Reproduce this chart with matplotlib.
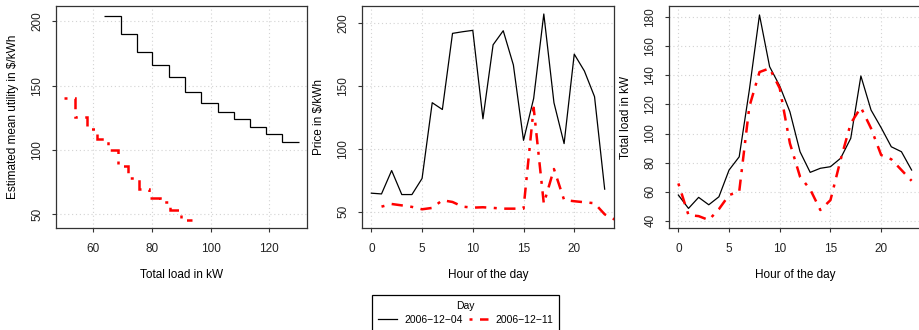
import numpy as np
import matplotlib
matplotlib.use('Agg')
import matplotlib.pyplot as plt
from matplotlib.lines import Line2D

plt.rcParams['font.family'] = ['Liberation Sans', 'DejaVu Sans']
plt.rcParams['font.size'] = 8.5

# panel 1: estimated mean utility (step functions)
util_edges_04 = [63.8, 69.4, 74.8, 80.1, 85.8, 91.4, 96.9, 102.6, 108.0, 113.5, 118.9, 124.5, 130.2]
util_vals_04 = [204.3, 190.3, 176.4, 166.3, 156.5, 145.2, 136.9, 129.7, 123.8, 118.1, 112.2, 106.5]
util_edges_11 = [50.1, 53.9, 57.9, 61.4, 65.0, 68.4, 72.0, 75.5, 79.1, 82.7, 86.1, 89.9, 93.6]
util_vals_11 = [140.3, 125.6, 116.6, 108.5, 100.0, 87.6, 78.3, 70.1, 62.6, 59.5, 53.3, 45.5]

# panel 2: price
hours_04 = list(range(0, 24))
price_04 = [64.7, 64.1, 82.7, 63.6, 63.6, 76.4, 136.6, 131.2, 191.7, 193.0, 194.1, 123.8,
            182.6, 193.8, 166.6, 106.7, 140.0, 207.1, 136.6, 104.1, 175.2, 161.8, 141.4, 67.9]
hours_11 = list(range(1, 25))
price_11 = [54.0, 56.1, 55.0, 53.8, 51.9, 53.0, 59.1, 57.7, 54.0, 53.2, 53.5, 53.0,
            52.4, 52.4, 52.4, 132.6, 56.4, 83.9, 59.3, 58.3, 57.5, 56.7, 47.9, 43.7]

# panel 3: total load
hours = list(range(0, 24))
load_04 = [57.7, 48.5, 56.1, 51.0, 56.5, 74.9, 84.0, 130.0, 181.6, 146.0, 132.7, 115.0,
           87.5, 73.3, 76.1, 77.2, 83.0, 96.7, 139.6, 116.2, 104.0, 90.9, 87.5, 74.9]
load_11 = [65.7, 43.9, 43.2, 40.5, 48.0, 57.7, 60.0, 118.5, 142.3, 144.9, 131.1, 93.3,
           70.3, 61.6, 47.4, 54.2, 82.0, 107.0, 118.0, 103.6, 85.2, 82.3, 74.9, 67.5]

days = ['2006\u221212\u221204', '2006\u221212\u221211']

blk = dict(color='black', lw=0.9)
red = dict(color='red', lw=1.8, linestyle=(0, (1.2, 3, 4.5, 3)))


def style(ax):
    ax.grid(True, color='#d3d3d3', linestyle=(0, (1, 2.5)), lw=0.8)
    ax.set_axisbelow(True)
    for s in ax.spines.values():
        s.set_color('#333333')
        s.set_linewidth(0.9)
    ax.tick_params(direction='out', length=3, width=0.8, color='#333333', labelcolor='#222222')
    ax.tick_params(axis='x', pad=8)
    ax.tick_params(axis='y', pad=6)
    for lab in ax.get_yticklabels():
        lab.set_rotation(90)
        lab.set_va('center')


fig = plt.figure(figsize=(9.2, 3.3), dpi=100)

ax1 = fig.add_axes([0.0609, 0.309, 0.2728, 0.673])
ax1.stairs(util_vals_04, util_edges_04, baseline=None, **blk)
ax1.stairs(util_vals_11, util_edges_11, baseline=None, **red)
ax1.set_xlim(47.3, 132.9)
ax1.set_ylim(39.4, 212)
ax1.set_xticks([60, 80, 100, 120])
ax1.set_yticks([50, 100, 150, 200])
ax1.set_xlabel('Total load in kW', labelpad=10)
ax1.set_ylabel('Estimated mean utility in $/kWh', labelpad=9)
style(ax1)

ax2 = fig.add_axes([0.3935, 0.309, 0.2739, 0.673])
ax2.plot(hours_04, price_04, **blk)
ax2.plot(hours_11, price_11, **red)
ax2.set_xlim(-0.92, 23.92)
ax2.set_ylim(37, 213.5)
ax2.set_xticks([0, 5, 10, 15, 20])
ax2.set_yticks([50, 100, 150, 200])
ax2.set_xlabel('Hour of the day', labelpad=10)
ax2.set_ylabel('Price in $/kWh', labelpad=9)
style(ax2)

ax3 = fig.add_axes([0.7272, 0.309, 0.2738, 0.673])
ax3.plot(hours, load_04, **blk)
ax3.plot(hours, load_11, **red)
ax3.set_xlim(-0.92, 23.92)
ax3.set_ylim(35, 187.8)
ax3.set_xticks([0, 5, 10, 15, 20])
ax3.set_yticks(range(40, 181, 20))
ax3.set_xlabel('Hour of the day', labelpad=10)
ax3.set_ylabel('Total load in kW', labelpad=9)
style(ax3)

handles = [Line2D([], [], **blk), Line2D([], [], **red)]
leg = fig.legend(handles, days, title='Day', ncol=2, loc='upper center',
                 bbox_to_anchor=(0.506, 0.106), borderaxespad=0, fancybox=False,
                 framealpha=1, edgecolor='black', handlelength=1.8, handletextpad=0.7,
                 columnspacing=0.65, borderpad=0.55, labelspacing=0.3,
                 fontsize=7.5, title_fontsize=7.5)
leg.get_frame().set_linewidth(0.9)
leg._legend_box.sep = 3

fig.savefig('out.png', dpi=100)
